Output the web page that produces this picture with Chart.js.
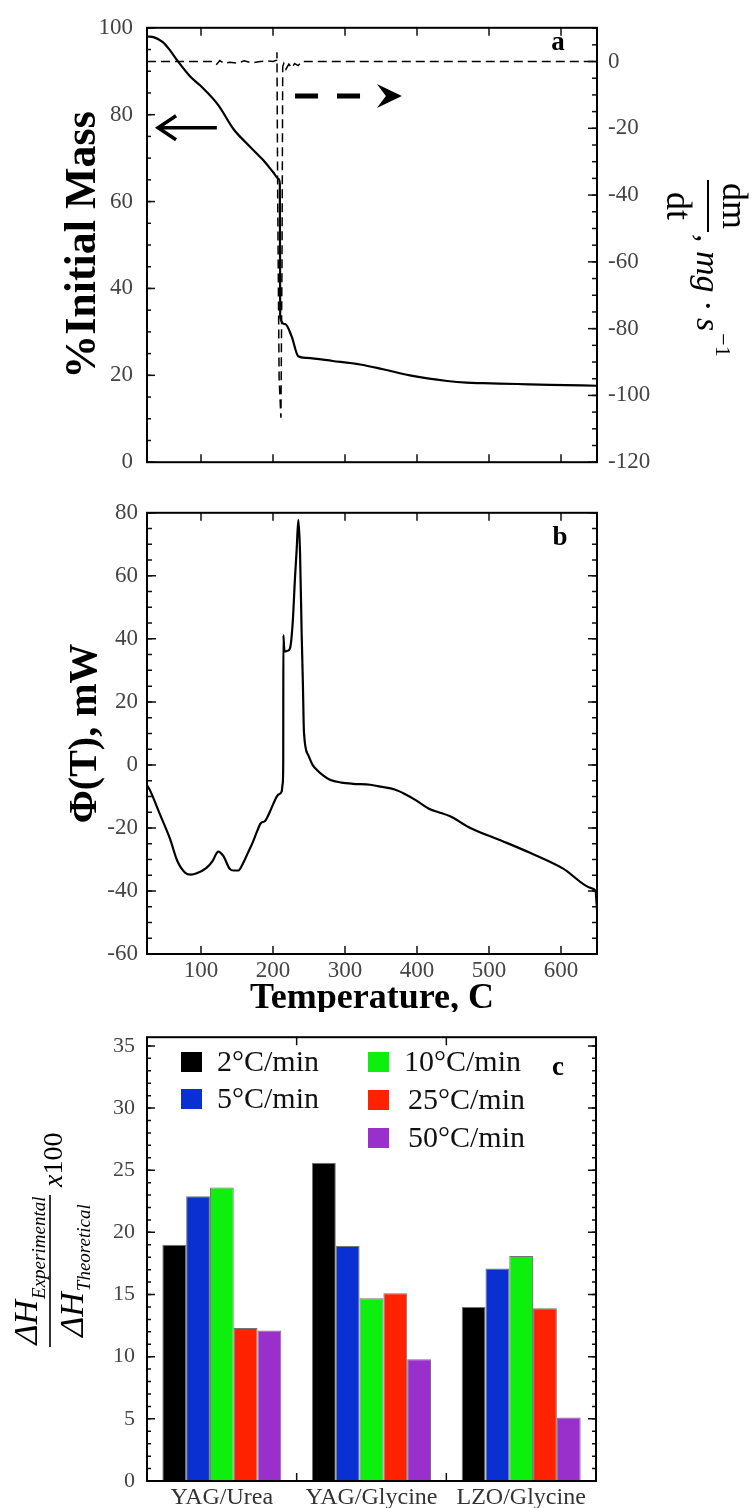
<!DOCTYPE html>
<html>
<head>
<meta charset="utf-8">
<script src="https://cdn.jsdelivr.net/npm/chart.js@4.4.1/dist/chart.umd.min.js"></script>
<style>
  html, body { margin: 0; padding: 0; background: #fff; }
  body { position: relative; width: 753px; height: 1508px; overflow: hidden; }
  canvas { position: absolute; left: 0; }
  #chartA { top: 0; z-index: 1; }
  #chartB { top: 490px; z-index: 1; }
  #chartC { top: 1012px; z-index: 2; }
</style>
</head>
<body>
<canvas id="chartA" width="753" height="490"></canvas>
<canvas id="chartB" width="753" height="530"></canvas>
<canvas id="chartC" width="753" height="496"></canvas>
<script>
// panel a: thermogravimetry (temperature in C)
const massTemp = [25, 35, 47, 57, 67, 85, 99, 124, 145, 164, 186, 200, 208, 209.5, 210, 217, 226, 235, 247, 283, 321, 353, 390, 442, 469, 492, 539, 585, 650];
const massPct  = [98.0, 97.8, 96.7, 94.8, 92.5, 88.8, 86.7, 82.2, 76.7, 73.3, 69.6, 66.8, 65.2, 64.0, 33.3, 31.8, 28.9, 24.4, 24.0, 23.3, 22.5, 21.4, 20.0, 18.7, 18.3, 18.2, 18.0, 17.8, 17.6];
const rateTemp = [25, 60, 100, 118, 122, 126, 132, 140, 150, 160, 170, 180, 190, 200, 205, 205.5, 206.5, 208.5, 211, 212.5, 213.5, 215, 218, 222, 226, 230, 235, 240, 650];
const rateVal  = [0, 0, 0, 0, -0.8, 0.3, -0.6, -0.2, -0.5, 0.2, -0.4, -0.1, 0.2, 0, 0.4, 2.8, -40, -95, -106.7, -60, -1.5, -0.6, -2.3, -0.8, -1.9, -0.6, -1.2, 0, 0];

// panel b: heat flow
const dscTemp  = [25, 29, 43, 57, 67, 78, 86, 94, 108, 116, 124, 131, 140, 145, 152, 158, 165, 172, 178, 183, 189, 196, 200, 207, 212, 213.4, 214.2, 214.4, 215.5, 216.7, 220, 223.6, 227.3, 230.6, 232.9, 235.2, 237.5, 239.8, 241.5, 243, 249, 255, 261, 270, 279, 295, 311, 335, 349, 369, 383, 397, 410, 418, 430, 446, 474, 519, 557, 603, 643, 648, 650];
const dscPower = [-6.5, -8, -15.7, -23.5, -30.4, -34.2, -34.8, -34.4, -32.6, -30.5, -27.5, -28.9, -33, -33.5, -33.5, -31.4, -28, -24.5, -21, -18.5, -17.8, -14.7, -12.6, -9.5, -8.5, -6, 0, 41.2, 37, 36, 36.2, 37, 44.9, 59.6, 68.4, 77.8, 67.8, 41.7, 26, 10.4, 3.1, 0, -1.6, -3.4, -4.7, -5.6, -6, -6.3, -6.9, -7.8, -9.2, -11, -13, -14.1, -15, -16.3, -20, -24.2, -27.9, -32.9, -39.2, -40, -46];

// panel c: enthalpy ratio per system and heating rate
const systems = ['YAG/Urea', 'YAG/Glycine', 'LZO/Glycine'];
const rateNames = ['2°C/min', '5°C/min', '10°C/min', '25°C/min', '50°C/min'];
const rate2  = [19.0, 25.6, 14.0];
const rate5  = [22.9, 18.9, 17.1];
const rate10 = [23.6, 14.7, 18.1];
const rate25 = [12.3, 15.1, 13.9];
const rate50 = [12.1, 9.8, 5.1];
const rateColors = ['#000000', '#0a30d2', '#0df00d', '#ff2200', '#9a30cc'];

const SERIF = "'Liberation Serif', 'Times New Roman', serif";
Chart.defaults.font.family = SERIF;
Chart.defaults.color = '#444';

const noGrid = { display: false, drawTicks: false };
const noBorder = { display: false };

function steps(from, to, step) {
  const out = [];
  const n = Math.round((to - from) / step);
  for (let i = 0; i <= n; i++) out.push(from + i * step);
  return out;
}
const pts = (xs, ys) => xs.map((x, i) => ({ x, y: ys[i] }));

// box around the plot and inward tick marks
const framePlugin = {
  id: 'frame',
  afterDatasetsDraw(chart, args, opts) {
    const { ctx, chartArea: a } = chart;
    ctx.save();
    ctx.strokeStyle = '#111';
    ctx.lineWidth = 1.5;
    (opts.marks || []).forEach(m => {
      const sc = chart.scales[m.scale];
      steps(m.from, m.to, m.step).forEach(v => {
        const p = sc.getPixelForValue(v);
        ctx.beginPath();
        m.sides.forEach(side => {
          if (side === 'bottom') { ctx.moveTo(p, a.bottom); ctx.lineTo(p, a.bottom - m.len); }
          if (side === 'top') { ctx.moveTo(p, a.top); ctx.lineTo(p, a.top + m.len); }
          if (side === 'left') { ctx.moveTo(a.left, p); ctx.lineTo(a.left + m.len, p); }
          if (side === 'right') { ctx.moveTo(a.right, p); ctx.lineTo(a.right - m.len, p); }
        });
        ctx.stroke();
      });
    });
    ctx.strokeStyle = '#000';
    ctx.lineWidth = 2;
    ctx.strokeRect(a.left, a.top, a.right - a.left, a.bottom - a.top);
    ctx.restore();
  }
};

function panelLetter(ctx, txt, x, y) {
  ctx.save();
  ctx.font = 'bold 27px ' + SERIF;
  ctx.fillStyle = '#000';
  ctx.textAlign = 'center';
  ctx.textBaseline = 'middle';
  ctx.fillText(txt, x, y);
  ctx.restore();
}

// ---------- panel a ----------
const annotA = {
  id: 'annotA',
  afterDraw(chart) {
    const { ctx } = chart;
    const x = chart.scales.x, y = chart.scales.y;
    ctx.save();
    ctx.strokeStyle = '#000';
    ctx.fillStyle = '#000';
    // arrow pointing to the left axis
    const tip = x.getPixelForValue(39), tail = x.getPixelForValue(122), ay = y.getPixelForValue(77);
    ctx.lineWidth = 3.5;
    ctx.beginPath(); ctx.moveTo(tail, ay); ctx.lineTo(tip + 2, ay); ctx.stroke();
    ctx.beginPath(); ctx.moveTo(tip + 19, ay - 12); ctx.lineTo(tip + 1, ay); ctx.lineTo(tip + 19, ay + 12); ctx.stroke();
    // dashed arrow pointing to the right axis
    const dy = y.getPixelForValue(84.3), d0 = x.getPixelForValue(230.6), d1 = x.getPixelForValue(344), dt = x.getPixelForValue(379);
    ctx.lineWidth = 5;
    ctx.setLineDash([23, 19]);
    ctx.beginPath(); ctx.moveTo(d0, dy); ctx.lineTo(d1, dy); ctx.stroke();
    ctx.setLineDash([]);
    ctx.beginPath();
    ctx.moveTo(dt, dy); ctx.lineTo(dt - 25, dy - 12); ctx.lineTo(dt - 16, dy); ctx.lineTo(dt - 25, dy + 12);
    ctx.closePath(); ctx.fill();
    ctx.restore();

    panelLetter(ctx, 'a', 558, 43);

    // right axis title: dm/dt , mg·s^-1 (rotated clockwise)
    ctx.save();
    ctx.translate(708, 0);
    ctx.rotate(Math.PI / 2);
    ctx.fillStyle = '#000';
    ctx.font = '36px ' + SERIF;
    ctx.textAlign = 'center';
    ctx.textBaseline = 'alphabetic';
    ctx.fillText('dm', 206, -15);
    ctx.fillText('dt', 206, 41);
    ctx.fillRect(180, -1, 52, 2);
    ctx.textAlign = 'left';
    ctx.font = 'italic 34px ' + SERIF;
    const unit = ', mg · s';
    ctx.fillText(unit, 234, 11);
    const w = ctx.measureText(unit).width;
    ctx.font = '22px ' + SERIF;
    ctx.fillText('\u22121', 234 + w + 2, -8);
    ctx.restore();
  }
};

new Chart(document.getElementById('chartA'), {
  type: 'line',
  data: {
    datasets: [
      { label: '% initial mass', data: pts(massTemp, massPct), yAxisID: 'y',
        borderColor: '#000', borderWidth: 2.2, pointRadius: 0, cubicInterpolationMode: 'monotone' },
      { label: 'dm/dt', data: pts(rateTemp, rateVal), yAxisID: 'y1',
        borderColor: '#000', borderWidth: 1.5, borderDash: [9, 5], pointRadius: 0, tension: 0 }
    ]
  },
  options: {
    responsive: false, animation: false, events: [],
    layout: { padding: { top: 23, left: 0, right: 0, bottom: 0 } },
    plugins: {
      legend: { display: false }, tooltip: { enabled: false },
      frame: { marks: [
        { scale: 'x', from: 100, to: 600, step: 100, len: 8, sides: ['bottom', 'top'] },
        { scale: 'y', from: 0, to: 100, step: 5, len: 4, sides: ['left'] },
        { scale: 'y', from: 0, to: 100, step: 20, len: 8, sides: ['left'] },
        { scale: 'y1', from: -120, to: 10, step: 5, len: 5, sides: ['right'] },
        { scale: 'y1', from: -120, to: 0, step: 20, len: 9, sides: ['right'] }
      ] }
    },
    scales: {
      x: { type: 'linear', min: 25, max: 650, ticks: { display: false, stepSize: 100, includeBounds: false },
           grid: noGrid, border: noBorder, afterFit(s) { s.height = 17; } },
      y: { position: 'left', min: 0, max: 100,
           ticks: { stepSize: 20, padding: 14, font: { size: 23 } },
           grid: noGrid, border: noBorder,
           title: { display: true, text: '%Initial Mass', color: '#000',
                    font: { size: 44, weight: 'bold' }, padding: { top: 57, bottom: 0 } },
           afterFit(s) { s.width = 147; } },
      y1: { position: 'right', min: -120, max: 10.1,
            ticks: { stepSize: 20, padding: 11, includeBounds: false, font: { size: 23 } },
            grid: noGrid, border: noBorder, afterFit(s) { s.width = 156; } }
    }
  },
  plugins: [framePlugin, annotA]
});

// ---------- panel b ----------
const annotB = {
  id: 'annotB',
  afterDraw(chart) { panelLetter(chart.ctx, 'b', 560, 48); }
};

new Chart(document.getElementById('chartB'), {
  type: 'line',
  data: {
    datasets: [
      { label: 'Φ(T)', data: pts(dscTemp, dscPower), borderColor: '#000', borderWidth: 2.2,
        pointRadius: 0, cubicInterpolationMode: 'monotone' }
    ]
  },
  options: {
    responsive: false, animation: false, events: [],
    layout: { padding: { top: 18, left: 0, right: 156, bottom: 0 } },
    plugins: {
      legend: { display: false }, tooltip: { enabled: false },
      frame: { marks: [
        { scale: 'x', from: 100, to: 600, step: 100, len: 8, sides: ['bottom', 'top'] },
        { scale: 'y', from: -60, to: 80, step: 5, len: 5, sides: ['left', 'right'] },
        { scale: 'y', from: -60, to: 80, step: 20, len: 9, sides: ['left', 'right'] }
      ] }
    },
    scales: {
      x: { type: 'linear', min: 25, max: 650,
           ticks: { stepSize: 100, includeBounds: false, padding: 3, font: { size: 23 }, maxRotation: 0 },
           grid: noGrid, border: noBorder,
           title: { display: true, text: 'Temperature, C', color: '#000',
                    font: { size: 36, weight: 'bold' }, padding: { top: 0, bottom: 0 } },
           afterFit(s) { s.height = 66; } },
      y: { position: 'left', min: -60, max: 80,
           ticks: { stepSize: 20, padding: 9, font: { size: 23 } },
           grid: noGrid, border: noBorder,
           title: { display: true, text: 'Φ(T), mW', color: '#000',
                    font: { size: 40, weight: 'bold' }, padding: { top: 62, bottom: 0 } },
           afterFit(s) { s.width = 147; } }
    }
  },
  plugins: [framePlugin, annotB]
});

// ---------- panel c ----------
const whiteBg = {
  id: 'whiteBg',
  beforeDraw(chart) {
    const { ctx, width, height } = chart;
    ctx.save(); ctx.fillStyle = '#fff'; ctx.fillRect(0, 0, width, height); ctx.restore();
  }
};

const annotC = {
  id: 'annotC',
  afterDraw(chart) {
    const { ctx } = chart;
    const ds = chart.data.datasets;
    // legend in two columns
    const slots = [[181, 50, 217], [181, 87, 217], [368, 50, 404], [368, 88, 408], [368, 126, 408]];
    ctx.save();
    ctx.font = '30px ' + SERIF;
    ctx.textBaseline = 'middle';
    ctx.textAlign = 'left';
    ds.forEach((d, i) => {
      const [bx, cy, tx] = slots[i];
      ctx.fillStyle = d.backgroundColor;
      ctx.fillRect(bx, cy - 10, 21, 20);
      ctx.fillStyle = '#111';
      ctx.fillText(d.label, tx, cy + 1);
    });
    ctx.restore();

    panelLetter(ctx, 'c', 558, 56);

    // y title: dH_exp / dH_theo x100 (rotated counter-clockwise)
    ctx.save();
    ctx.translate(50, 259);
    ctx.rotate(-Math.PI / 2);
    ctx.fillStyle = '#000';
    ctx.textBaseline = 'alphabetic';
    ctx.textAlign = 'left';
    const big = 'italic 34px ' + SERIF, small = 'italic 19px ' + SERIF;
    function frac(sub, base, subDrop) {
      ctx.font = big; const w1 = ctx.measureText('ΔH').width;
      ctx.font = small; const w2 = ctx.measureText(sub).width;
      const u0 = -(w1 + w2) / 2;
      ctx.font = big; ctx.fillText('ΔH', u0, base);
      ctx.font = small; ctx.fillText(sub, u0 + w1 + 1, base + subDrop);
    }
    frac('Experimental', -13, 8);
    frac('Theoretical', 33, 7);
    ctx.fillRect(-76, -0.8, 152, 1.6);
    ctx.font = 'italic 28px ' + SERIF;
    ctx.fillText('x', 84, 12);
    const wx = ctx.measureText('x').width;
    ctx.font = '28px ' + SERIF;
    ctx.fillText('100', 84 + wx, 12);
    ctx.restore();
  }
};

const series = [rate2, rate5, rate10, rate25, rate50];
new Chart(document.getElementById('chartC'), {
  type: 'bar',
  data: {
    labels: systems,
    datasets: series.map((vals, i) => ({
      label: rateNames[i], data: vals, backgroundColor: rateColors[i],
      borderColor: 'rgba(70,70,70,0.75)', borderWidth: 1,
      categoryPercentage: 0.795, barPercentage: 1.0
    }))
  },
  options: {
    responsive: false, animation: false, events: [],
    layout: { padding: { top: 14, left: 0, right: 157, bottom: 0 } },
    plugins: {
      legend: { display: false }, tooltip: { enabled: false },
      frame: { marks: [
        { scale: 'x', from: 0.5, to: 1.5, step: 1, len: 8, sides: ['bottom', 'top'] },
        { scale: 'y', from: 0, to: 35, step: 1, len: 4, sides: ['left', 'right'] },
        { scale: 'y', from: 0, to: 35, step: 5, len: 8, sides: ['left', 'right'] }
      ] }
    },
    scales: {
      x: { type: 'category', offset: true,
           ticks: { padding: 2, font: { size: 24 }, color: '#333', maxRotation: 0 },
           grid: noGrid, border: noBorder, afterFit(s) { s.height = 27; } },
      y: { position: 'left', min: 0, max: 35.7,
           ticks: { stepSize: 5, includeBounds: false, padding: 12, font: { size: 22 } },
           grid: noGrid, border: noBorder, afterFit(s) { s.width = 147; } }
    }
  },
  plugins: [whiteBg, framePlugin, annotC]
});
</script>
</body>
</html>
